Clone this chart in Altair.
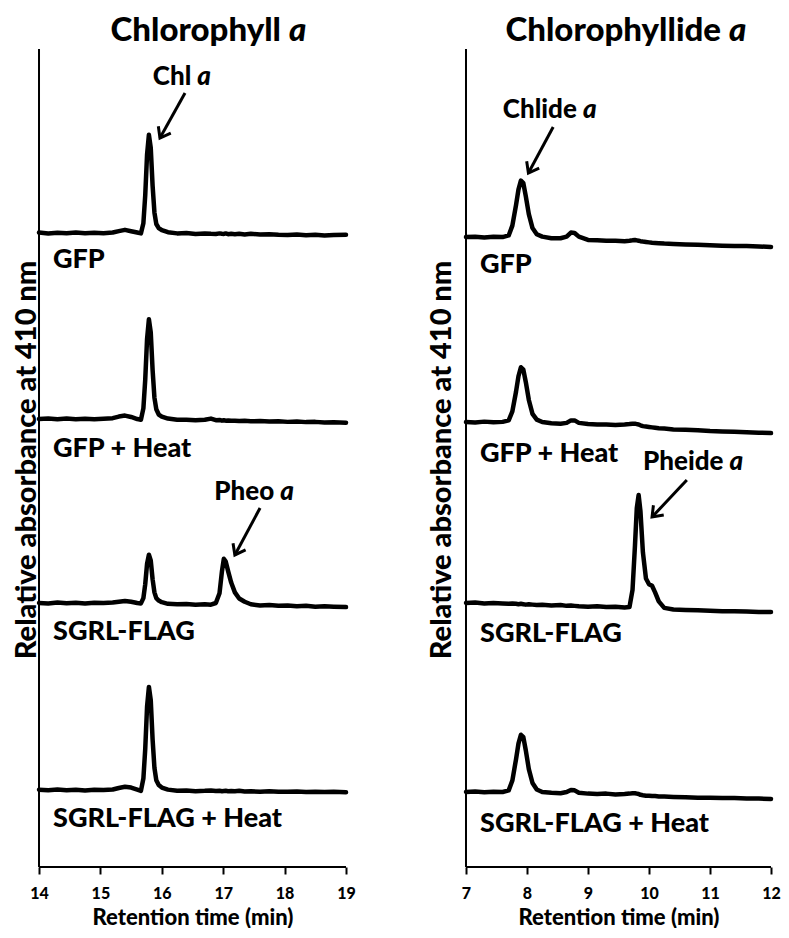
import altair as alt
import pandas as pd

FONT = "Lato"
WEIGHT = 900
SAMPLES = ["GFP", "GFP + Heat", "SGRL-FLAG", "SGRL-FLAG + Heat"]

# ---------------- Chlorophyll a panel (retention 14-19 min) ----------------
L_TIME = [14.00, 14.15, 14.30, 14.45, 14.60, 14.75, 14.90, 15.05, 15.20, 15.30,
          15.40, 15.50, 15.60, 15.66, 15.70, 15.73, 15.76, 15.79, 15.82, 15.85,
          15.88, 15.91, 15.95, 16.00, 16.10, 16.25, 16.40, 16.55, 16.70, 16.80,
          16.88, 16.94, 16.98, 17.01, 17.04, 17.08, 17.13, 17.19, 17.26, 17.35,
          17.45, 17.60, 17.75, 17.90, 18.05, 18.20, 18.35, 18.50, 18.65, 18.80, 19.00]
L_GFP = [0.05, -0.05, 0.04, -0.03, 0.05, -0.04, 0.02, -0.03, 0.05, 0.22,
         0.38, 0.22, 0.05, -0.05, 1.2, 4.6, 9.6, 12.0, 10.4, 5.8,
         2.5, 1.1, 0.6, 0.35, 0.1, -0.05, 0.0, -0.12, -0.05, -0.1,
         -0.12, -0.05, -0.1, -0.12, -0.05, -0.15, -0.1, -0.15, -0.1, -0.18,
         -0.1, -0.2, -0.15, -0.22, -0.25, -0.2, -0.28, -0.22, -0.3, -0.25, -0.22]
L_GFP_HEAT = [0.0, 0.06, -0.04, 0.05, -0.03, 0.04, -0.02, 0.03, 0.1, 0.3,
              0.42, 0.25, 0.0, -0.08, 1.3, 4.8, 9.8, 12.2, 10.6, 6.0,
              2.6, 1.2, 0.55, 0.3, 0.05, -0.1, -0.08, -0.15, -0.1, 0.05,
              -0.15, -0.12, -0.2, -0.15, -0.2, -0.18, -0.22, -0.2, -0.25, -0.22,
              -0.28, -0.25, -0.3, -0.28, -0.35, -0.3, -0.38, -0.35, -0.42, -0.4, -0.45]
L_SGRL = [0.0, -0.05, 0.05, -0.04, 0.03, -0.05, 0.04, 0.0, 0.05, 0.15,
          0.25, 0.15, 0.0, -0.05, 0.6, 2.3, 4.8, 5.9, 5.2, 2.9,
          1.3, 0.6, 0.3, 0.1, -0.1, -0.15, -0.12, -0.2, -0.15, -0.2,
          0.0, 1.2, 3.9, 5.4, 5.1, 3.9, 2.5, 1.3, 0.55, 0.15,
          -0.15, -0.3, -0.25, -0.35, -0.3, -0.4, -0.35, -0.45, -0.4, -0.45, -0.5]
L_SGRL_HEAT = [0.03, -0.03, 0.05, -0.02, 0.04, -0.05, 0.03, 0.0, 0.06, 0.25,
               0.4, 0.3, 0.05, -0.1, 1.4, 5.0, 10.2, 12.6, 11.0, 6.2,
               2.7, 1.2, 0.6, 0.3, 0.05, -0.1, -0.05, -0.15, -0.1, -0.05,
               -0.12, -0.1, -0.15, -0.12, -0.1, -0.15, -0.12, -0.15, -0.1, -0.18,
               -0.15, -0.2, -0.15, -0.2, -0.22, -0.18, -0.25, -0.2, -0.25, -0.22, -0.28]
L_OFFSET = [77.5, 54.76, 32.27, 9.41]
L_LABEL_Y = [73.2, 50.1, 27.7, 4.9]
L_TICKS = [14, 15, 16, 17, 18, 19]
L_PEAK_WORD = ["Chl", "Pheo"]
L_PEAK_X = [16.53, 17.88]
L_PEAK_Y = [95.6, 44.86]
L_ARROW_X = [16.378, 17.60]
L_ARROW_Y = [94.6, 43.88]
L_TIP_X = [15.97, 17.19]
L_TIP_Y = [89.1, 38.14]
L_ARROW_ANGLE = [29, 28]

# ---------------- Chlorophyllide a panel (retention 7-12 min) ----------------
R_TIME = [7.00, 7.15, 7.30, 7.45, 7.60, 7.70, 7.76, 7.82, 7.86, 7.90,
          7.94, 7.98, 8.03, 8.09, 8.16, 8.25, 8.40, 8.55, 8.65, 8.72,
          8.78, 8.85, 9.00, 9.15, 9.30, 9.45, 9.60, 9.68, 9.73, 9.77,
          9.80, 9.83, 9.86, 9.90, 9.95, 10.00, 10.05, 10.10, 10.16, 10.25,
          10.40, 10.60, 10.80, 11.00, 11.20, 11.40, 11.60, 11.80, 12.00]
R_GFP = [0.0, 0.05, -0.05, 0.05, 0.0, 0.2, 1.4, 3.9, 5.8, 6.9,
         6.6, 5.0, 2.8, 1.1, 0.35, 0.05, -0.15, -0.15, 0.05, 0.55,
         0.5, 0.05, -0.35, -0.4, -0.45, -0.45, -0.5, -0.45, -0.4, -0.35,
         -0.4, -0.45, -0.5, -0.55, -0.6, -0.65, -0.7, -0.72, -0.75, -0.8,
         -0.85, -0.9, -0.95, -1.0, -1.05, -1.1, -1.1, -1.15, -1.2]
R_GFP_HEAT = [0.0, -0.05, 0.05, -0.03, 0.02, 0.2, 1.3, 3.7, 5.6, 6.7,
              6.4, 4.9, 2.7, 1.0, 0.3, 0.0, -0.15, -0.2, -0.1, 0.2,
              0.2, -0.1, -0.25, -0.3, -0.3, -0.35, -0.3, -0.25, -0.2, -0.2,
              -0.25, -0.3, -0.4, -0.5, -0.55, -0.6, -0.65, -0.7, -0.75, -0.8,
              -0.9, -0.95, -1.0, -1.1, -1.15, -1.2, -1.25, -1.3, -1.35]
R_SGRL = [0.0, 0.05, -0.05, 0.0, -0.05, -0.1, -0.05, -0.1, -0.15, -0.1,
          -0.15, -0.2, -0.15, -0.2, -0.25, -0.2, -0.3, -0.25, -0.35, -0.3,
          -0.35, -0.4, -0.45, -0.4, -0.5, -0.45, -0.55, -0.5, 1.6, 7.0,
          11.6, 13.2, 11.2, 6.2, 3.0, 2.3, 2.1, 1.3, 0.2, -0.6,
          -0.8, -0.85, -0.9, -0.95, -1.0, -1.0, -1.05, -1.1, -1.1]
R_SGRL_HEAT = [0.0, 0.05, -0.03, 0.04, 0.0, 0.2, 1.4, 4.0, 5.9, 7.0,
               6.7, 5.1, 2.8, 1.1, 0.3, 0.0, -0.1, -0.15, 0.0, 0.25,
               0.2, -0.1, -0.2, -0.25, -0.2, -0.3, -0.25, -0.2, -0.15, -0.15,
               -0.2, -0.25, -0.35, -0.4, -0.45, -0.45, -0.5, -0.5, -0.55, -0.55,
               -0.6, -0.65, -0.7, -0.7, -0.75, -0.75, -0.8, -0.8, -0.85]
R_OFFSET = [77.0, 54.39, 32.27, 9.17]
R_LABEL_Y = [72.6, 49.5, 27.5, 4.3]
R_TICKS = [7, 8, 9, 10, 11, 12]
R_PEAK_WORD = ["Chlide", "Pheide"]
R_PEAK_X = [8.867, 11.27]
R_PEAK_Y = [91.55, 48.53]
R_ARROW_X = [8.429, 10.62]
R_ARROW_Y = [90.45, 47.3]
R_TIP_X = [8.023, 10.05]
R_TIP_Y = [84.83, 42.78]
R_ARROW_ANGLE = [28.5, 43.5]

Y_TOP = 105        # top of plotting frame
AXIS_TOP = 100     # top of the drawn y-axis line
YTITLE_Y = 49.75
V_HEAD = "M -0.75 -1 L 0 0 L 0.75 -1"


def panel(time, traces, offsets, label_y, ticks, dom_min, width,
          pk_word, pk_x, pk_y, ar_x, ar_y, tip_x, tip_y, ar_ang,
          title_word, title_anchor, ytitle_x, xtitle_x, label_x):
    rows = []
    for name, sig, off in zip(SAMPLES, traces, offsets):
        for t, v in zip(time, sig):
            rows.append({"time": t, "abs": v + off, "sample": name})
    df = pd.DataFrame(rows)

    xenc = alt.X("time:Q",
                 scale=alt.Scale(domain=[dom_min, ticks[-1]], nice=False, zero=False),
                 axis=alt.Axis(values=ticks, format="d", title="Retention time (min)",
                               domain=False, grid=False, tickSize=7, tickWidth=2,
                               tickColor="black", labelColor="black",
                               labelFont=FONT, labelFontSize=16, labelFontWeight=WEIGHT,
                               labelPadding=11, labelFlush=False,
                               titleFont=FONT, titleFontSize=22, titleFontWeight=WEIGHT,
                               titleColor="black", titleX=xtitle_x, titleY=57,
                               titleBaseline="alphabetic", titleAlign="center"))
    yenc = alt.Y("abs:Q", scale=alt.Scale(domain=[0, Y_TOP], nice=False, zero=False),
                 axis=None)

    lines = alt.Chart(df).mark_line(color="black", strokeWidth=4.5, strokeJoin="round",
                                    strokeCap="round").encode(
        x=xenc, y=yenc, detail="sample:N")

    frame = pd.DataFrame({"time": [ticks[0], ticks[0]], "abs": [0, 0],
                          "time2": [ticks[0], ticks[-1]], "abs2": [AXIS_TOP, 0]})
    frame_rules = alt.Chart(frame).mark_rule(color="black", strokeWidth=2).encode(
        x=xenc, y=yenc, x2="time2:Q", y2="abs2:Q")

    ann = pd.DataFrame({"word": pk_word, "time": pk_x, "abs": pk_y})
    words = alt.Chart(ann).mark_text(font=FONT, fontSize=26, fontWeight=WEIGHT,
                                     align="right", baseline="alphabetic", dx=-3,
                                     color="black").encode(x=xenc, y=yenc, text="word:N")
    italic_a = alt.Chart(ann).mark_text(font=FONT, fontSize=26, fontWeight=WEIGHT,
                                        fontStyle="italic", align="left",
                                        baseline="alphabetic", dx=3,
                                        color="black").encode(
        x=xenc, y=yenc, text=alt.value("a"))

    arrows = pd.DataFrame({"time": ar_x, "abs": ar_y, "time2": tip_x, "abs2": tip_y})
    shafts = alt.Chart(arrows).mark_rule(color="black", strokeWidth=3).encode(
        x=xenc, y=yenc, x2="time2:Q", y2="abs2:Q")
    heads_df = pd.DataFrame({"time": tip_x, "abs": tip_y, "angle": ar_ang})
    heads = alt.Chart(heads_df).mark_point(shape=V_HEAD, filled=False, size=360,
                                           strokeWidth=3, color="black", opacity=1,
                                           strokeJoin="miter").encode(
        x=xenc, y=yenc, angle=alt.Angle("angle:Q", scale=None))

    labels_df = pd.DataFrame({"sample": SAMPLES, "abs": label_y})
    labels = alt.Chart(labels_df).mark_text(font=FONT, fontSize=27, fontWeight=WEIGHT,
                                            align="left", baseline="alphabetic",
                                            color="black").encode(
        x=alt.value(label_x), y=yenc, text="sample:N")

    head_df = pd.DataFrame({"word": [title_word], "abs": [YTITLE_Y],
                            "ytitle": ["Relative absorbance at 410 nm"]})
    title_word_mark = alt.Chart(head_df).mark_text(font=FONT, fontSize=33, fontWeight=WEIGHT,
                                                   align="right", baseline="alphabetic",
                                                   color="black", dx=-4).encode(
        x=alt.value(title_anchor), y=alt.value(33), text="word:N")
    title_a = alt.Chart(head_df).mark_text(font=FONT, fontSize=33, fontWeight=WEIGHT,
                                           fontStyle="italic", align="left",
                                           baseline="alphabetic", color="black",
                                           dx=4).encode(
        x=alt.value(title_anchor), y=alt.value(33), text=alt.value("a"))
    ytitle = alt.Chart(head_df).mark_text(font=FONT, fontSize=29, fontWeight=WEIGHT,
                                          align="center", baseline="middle", angle=270,
                                          color="black").encode(
        x=alt.value(ytitle_x), y=yenc, text="ytitle:N")

    return alt.layer(frame_rules, lines, shafts, heads, words, italic_a, labels,
                     title_word_mark, title_a, ytitle).properties(width=width, height=859)


left = panel(L_TIME, [L_GFP, L_GFP_HEAT, L_SGRL, L_SGRL_HEAT], L_OFFSET, L_LABEL_Y,
             L_TICKS, 13.495, 338,
             L_PEAK_WORD, L_PEAK_X, L_PEAK_Y, L_ARROW_X, L_ARROW_Y, L_TIP_X, L_TIP_Y,
             L_ARROW_ANGLE, "Chlorophyll", 277, 19, 184.5, 45)
right = panel(R_TIME, [R_GFP, R_GFP_HEAT, R_SGRL, R_SGRL_HEAT], R_OFFSET, R_LABEL_Y,
              R_TICKS, 6.3115, 347,
              R_PEAK_WORD, R_PEAK_X, R_PEAK_Y, R_ARROW_X, R_ARROW_Y, R_TIP_X, R_TIP_Y,
              R_ARROW_ANGLE, "Chlorophyllide", 301, 18, 194.5, 56)

chart = alt.hconcat(left, right, spacing=78, bounds="flush").properties(
    padding=0, background="white"
).configure_view(stroke=None)

chart.save("out.html", embed_options={"renderer": "svg", "actions": False})
